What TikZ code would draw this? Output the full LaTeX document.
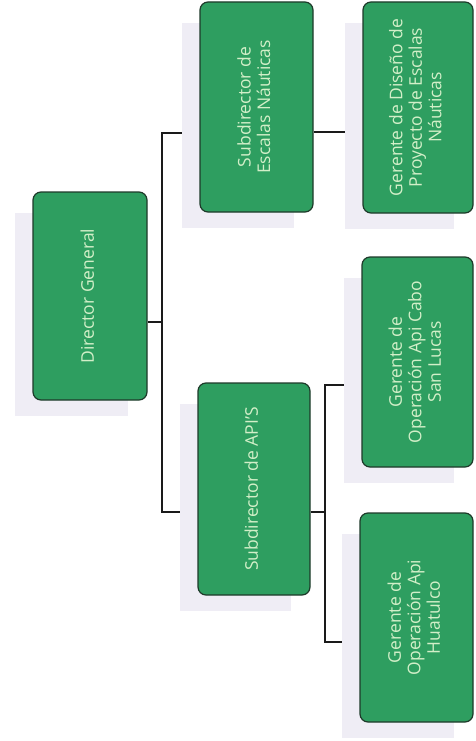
\documentclass[tikz,border=0pt]{standalone}
\usepackage{fontspec}
\setmainfont{Open Sans}
\usetikzlibrary{calc}
\definecolor{boxgreen}{HTML}{2E9E60}
\definecolor{boxedge}{HTML}{1E3A2A}
\definecolor{boxtext}{HTML}{D2EFC8}
\definecolor{shadowc}{HTML}{EFEDF5}
\definecolor{linec}{HTML}{1A1A1A}
\pgfdeclarelayer{bgl}
\pgfdeclarelayer{lines}
\pgfdeclarelayer{shad}
\pgfsetlayers{bgl,lines,shad,main}
\tikzset{
  orgbox/.style={draw=boxedge, line width=1.2pt, fill=boxgreen, rounded corners=8pt,
    inner sep=0pt, text=boxtext, font=\fontsize{17.5}{19.5}\selectfont},
  conn/.style={draw=linec, line width=1.3pt},
  shadowbox/.style={fill=shadowc}
}
\newcommand{\rtext}[1]{\rotatebox{90}{\begin{tabular}{@{}c@{}}#1\end{tabular}}}
\begin{document}
\begin{tikzpicture}[x=1pt,y=-1pt]
\begin{pgfonlayer}{bgl}
\fill[white] (0,0) rectangle (475,741);
\end{pgfonlayer}
\useasboundingbox (0,0) rectangle (475,741);
\node[orgbox, minimum width=114pt, minimum height=208pt] (D) at (90,296) {\rtext{Director General}};
\node[orgbox, minimum width=113pt, minimum height=210pt] (S1) at (256.5,107) {\rtext{Subdirector de\\Escalas Náuticas}};
\node[orgbox, minimum width=110pt, minimum height=211pt] (G1) at (418,107.5) {\rtext{Gerente de Diseño de\\Proyecto de Escalas\\Náuticas}};
\node[orgbox, minimum width=112pt, minimum height=212pt] (S2) at (254,489) {\rtext{Subdirector de API'S}};
\node[orgbox, minimum width=111pt, minimum height=210pt] (G2) at (417.5,362) {\rtext{Gerente de\\Operación Api Cabo\\San Lucas}};
\node[orgbox, minimum width=113pt, minimum height=209pt] (G3) at (416.5,617.5) {\rtext{Gerente de\\Operación Api\\Huatulco}};
\begin{pgfonlayer}{shad}
\foreach \n in {D,S1,G1,S2,G2,G3}{
  \fill[shadowbox] ($(\n.north west)+(-17,22)$) rectangle ($(\n.south east)+(-20,15)$);
}
\end{pgfonlayer}
\coordinate (jd) at (162,322);
\coordinate (j1) at (162,133);
\coordinate (j2) at (162,512);
\coordinate (k1) at (340,132);
\coordinate (m0) at (325,512);
\coordinate (m1) at (325,385);
\coordinate (m2) at (325,642);
\begin{pgfonlayer}{lines}
\draw[conn] (D.east |- jd) -- (jd);
\draw[conn] (S1.west |- j1) -- (j1) -- (j2) -- (S2.west |- j2);
\draw[conn] (S1.east |- k1) -- (G1.west |- k1);
\draw[conn] (S2.east |- m0) -- (m0);
\draw[conn] (G2.west |- m1) -- (m1) -- (m2) -- (G3.west |- m2);
\end{pgfonlayer}
\end{tikzpicture}
\end{document}
